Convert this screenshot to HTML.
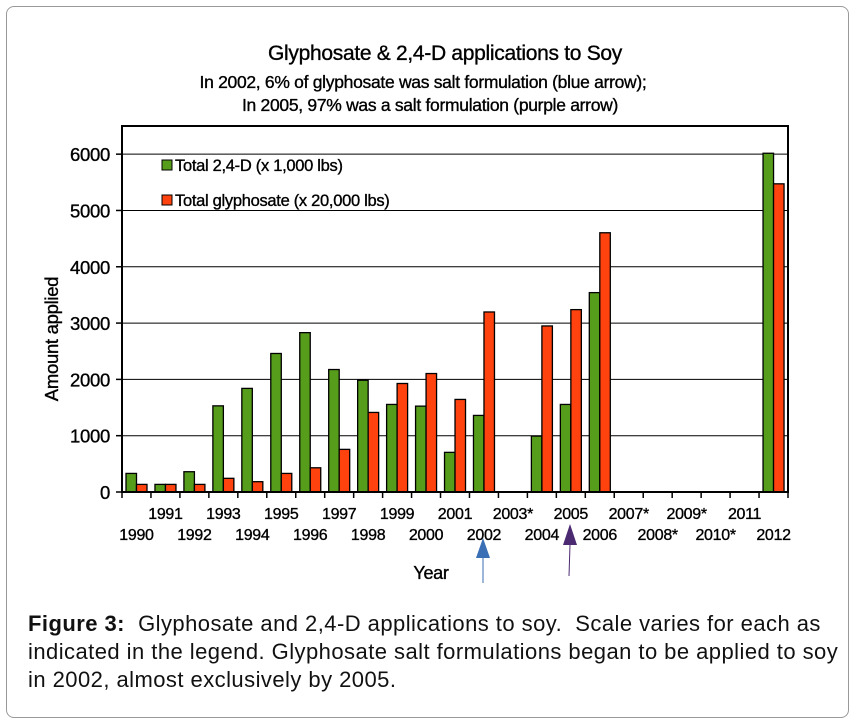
<!DOCTYPE html>
<html><head><meta charset="utf-8"><style>
html,body{margin:0;padding:0;background:#fff;}
body{width:856px;height:725px;overflow:hidden;position:relative;font-family:"Liberation Sans",Arial,sans-serif;}
#frame{position:absolute;left:6px;top:6px;width:843px;height:712px;border:1px solid #999;border-radius:8px;box-sizing:border-box;}
#caption{position:absolute;left:28px;top:610px;font-size:22px;letter-spacing:0.45px;line-height:28px;color:#111;white-space:nowrap;}
svg text{stroke:#000;stroke-width:0.35px;letter-spacing:-0.3px;}
</style></head><body>
<div id="frame"></div>
<svg id="chart" width="856" height="600" style="position:absolute;left:0;top:0">
<text x="445" y="60" text-anchor="middle" font-size="21">Glyphosate &amp; 2,4-D applications to Soy</text>
<text x="423" y="88" text-anchor="middle" font-size="17.5">In 2002, 6% of glyphosate was salt formulation (blue arrow);</text>
<text x="430" y="111" text-anchor="middle" font-size="17.5">In 2005, 97% was a salt formulation (purple arrow)</text>
<g id="grid"></g><g id="bars"></g><g id="axes"></g>
<text transform="translate(58,339) rotate(-90)" text-anchor="middle" font-size="18.5">Amount applied</text>
<text x="431" y="579" text-anchor="middle" font-size="18">Year</text>
<g>
<rect x="162" y="160" width="10" height="10" fill="#579d1c" stroke="#000" stroke-width="1"/>
<text x="175" y="171" font-size="16.5">Total 2,4-D (x 1,000 lbs)</text>
<rect x="162" y="195" width="10" height="10" fill="#ff420e" stroke="#000" stroke-width="1"/>
<text x="175" y="206" font-size="16.5">Total glyphosate (x 20,000 lbs)</text>
</g>
<g><line x1="483" y1="556" x2="483" y2="583" stroke="#3a6eb5" stroke-width="1"/><polygon points="483,538 476,558 490,558" fill="#3a6eb5"/></g>
<g><line x1="570" y1="545" x2="569" y2="576" stroke="#4b2a72" stroke-width="1"/><polygon points="570,524 563,545 577,545" fill="#4b2a72"/></g>
</svg>
<div id="caption"><b>Figure 3:</b>&nbsp; Glyphosate and 2,4-D applications to soy.&nbsp; Scale varies for each as<br>indicated in the legend. Glyphosate salt formulations began to be applied to soy<br>in 2002, almost exclusively by 2005.</div>
<script>
const years = ["1990","1991","1992","1993","1994","1995","1996","1997","1998","1999","2000","2001","2002","2003*","2004","2005","2006","2007*","2008*","2009*","2010*","2011","2012"];
const total24d = [330,135,360,1530,1840,2460,2830,2175,1985,1555,1525,704,1360,0,993,1555,3541,0,0,0,0,0,6016];
const totalGlyphosate = [135,135,135,243,183,330,430,757,1413,1927,2104,1644,3197,0,2949,3239,4604,0,0,0,0,0,5473];
const yTicks = [0,1000,2000,3000,4000,5000,6000];
const NS="http://www.w3.org/2000/svg";
const L=122,R=788,T=126,B=492,YMAX=6500;
const bw=(R-L)/years.length;
const y=v=>B-v/YMAX*(B-T);
const x=i=>L+i*bw;
function mk(tag,attrs,parent){const e=document.createElementNS(NS,tag);for(const k in attrs)e.setAttribute(k,attrs[k]);parent.appendChild(e);return e;}
const grid=document.getElementById('grid'),bars=document.getElementById('bars'),axes=document.getElementById('axes');
yTicks.forEach(t=>{
  if(t>0){const g=mk('line',{x1:L,x2:R,y1:y(t),y2:y(t),stroke:'#000','stroke-width':1},grid);
  
  }
  const tk=mk('line',{x1:L-6,x2:L,y1:y(t),y2:y(t),stroke:'#000','stroke-width':1.5},axes);
  
  
  const lb=mk('text',{x:L-12,y:y(t)+7,'text-anchor':'end','font-size':18.5},axes);lb.textContent=t;
  
  
});
years.forEach((yr,i)=>{
  const gx=x(i)+4, w=10.5;
  if(total24d[i]>0){const b=mk('rect',{x:gx,y:y(total24d[i]),width:w,height:B-y(total24d[i]),fill:'#579d1c',stroke:'#000','stroke-width':1.3},bars);
  
  }
  if(totalGlyphosate[i]>0){const b=mk('rect',{x:gx+w,y:y(totalGlyphosate[i]),width:w,height:B-y(totalGlyphosate[i]),fill:'#ff420e',stroke:'#000','stroke-width':1.3},bars);
  
  }
  const tk=mk('line',{x1:x(i),x2:x(i),y1:B,y2:B+6,stroke:'#000','stroke-width':1.5},axes);
  
  
  const lb=mk('text',{x:x(i)+bw/2,y:(i%2?519:540),'text-anchor':'middle','font-size':16},axes);lb.textContent=yr;
  
  
});
const tk=mk('line',{x1:R,x2:R,y1:B,y2:B+6,stroke:'#000','stroke-width':1.5},axes);


const fr=mk('rect',{x:L,y:T,width:R-L,height:B-T,fill:'none',stroke:'#000','stroke-width':2},axes);


</script>
</body></html>
